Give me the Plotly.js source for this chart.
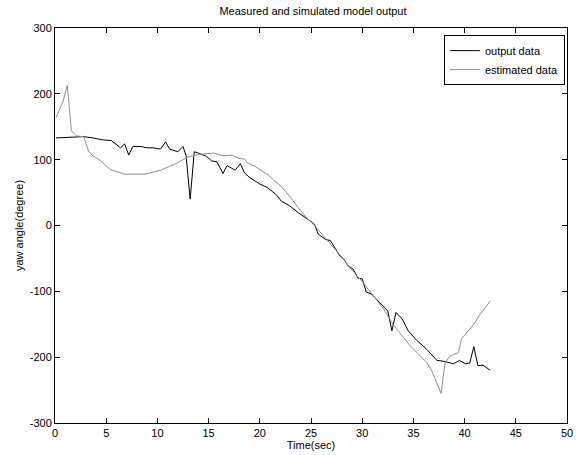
<!DOCTYPE html>
<html>
<head>
<meta charset="utf-8">
<script src="https://cdn.plot.ly/plotly-3.0.1.min.js"></script>
<style>html,body{margin:0;padding:0;background:#fff;}#chart{width:585px;height:455px;}</style>
</head>
<body>
<div id="chart"></div>
<script>
var outputTime = [0.1,2.8,3.7,4.7,5.5,6.4,6.8,7.2,7.6,8.4,9.0,9.6,10.3,10.8,11.2,12.0,12.5,12.8,13.2,13.6,14.0,14.8,15.3,15.8,16.4,16.8,17.6,18.1,18.5,19.0,20.0,20.7,21.6,22.1,22.9,23.8,25.1,25.4,25.7,26.4,26.9,27.8,28.2,28.6,29.1,29.6,30.0,30.4,30.9,31.7,32.5,32.9,33.3,33.9,34.5,35.3,36.3,37.3,37.9,38.9,39.5,40.1,40.5,40.9,41.3,41.8,42.5];
var outputData = [133,135,133,130,129,118,124,107,120,120,118,118,116,127,116,112,120,106,40,112,110,105,98,97,79,91,84,94,80,73,63,58,47,37,30,19,5,0,-13,-21,-23,-46,-51,-61,-66,-80,-81,-101,-104,-117,-130,-160,-132,-142,-160,-174,-188,-205,-206,-210,-205,-210,-209,-184,-213,-212,-220];
var estTime = [0.1,0.8,1.2,1.6,2.1,2.8,3.3,3.7,4.4,5.4,6.8,8.8,10.3,11.7,13.0,14.0,15.5,16.4,17.3,17.9,18.5,18.7,19.5,20.5,20.9,21.4,22.0,23.1,23.8,24.6,25.4,26.5,27.8,28.8,30.1,32.1,33.0,34.7,36.3,36.8,37.7,38.1,38.6,39.4,39.7,40.9,41.5,42.5];
var estData = [164,189,213,144,136,135,112,106,99,85,78,78,84,93,104,108,110,106,107,102,101,96,90,80,76,68,61,41,26,11,-1,-21,-44,-64,-87,-127,-150,-183,-208,-221,-255,-208,-198,-193,-172,-150,-135,-115];
var xTicks = [0,5,10,15,20,25,30,35,40,45,50];
var yTicks = [-300,-200,-100,0,100,200,300];

var traces = [
  {x: outputTime, y: outputData, type: 'scatter', mode: 'lines', name: 'output data',
   line: {color: '#000000', width: 1}},
  {x: estTime, y: estData, type: 'scatter', mode: 'lines', name: 'estimated data',
   line: {color: '#909090', width: 1}}
];
var axisCommon = {
  showgrid: false, zeroline: false, showline: true, linecolor: '#000', linewidth: 1,
  mirror: 'ticks', ticks: 'inside', ticklen: 5, tickcolor: '#000', tickwidth: 1,
  tickfont: {family: 'Liberation Sans, Arial, sans-serif', size: 11, color: '#000'}
};
var layout = {
  width: 585, height: 455,
  margin: {l: 55, r: 18, t: 28, b: 32},
  paper_bgcolor: '#fff', plot_bgcolor: '#fff',
  font: {family: 'Liberation Sans, Arial, sans-serif', size: 11, color: '#000'},
  title: {text: 'Measured and simulated model output', x: 0.535, xanchor: 'center', y: 0.975, yanchor: 'middle',
          font: {size: 11, color: '#000'}},
  xaxis: Object.assign({}, axisCommon, {range: [0, 50], tickvals: xTicks, ticktext: xTicks.map(String),
          title: {text: 'Time(sec)', standoff: 2, font: {size: 11}}}),
  yaxis: Object.assign({}, axisCommon, {range: [-300, 300], tickvals: yTicks, ticktext: yTicks.map(String),
          title: {text: 'yaw angle(degree)', standoff: 3, font: {size: 11}}}),
  showlegend: true,
  legend: {x: 0.996, y: 0.982, xanchor: 'right', yanchor: 'top', bgcolor: '#fff',
           bordercolor: '#000', borderwidth: 1, font: {size: 11, color: '#000'},
           tracegroupgap: 0, itemwidth: 30}
};
Plotly.newPlot('chart', traces, layout, {displayModeBar: false, staticPlot: true});
</script>
</body>
</html>
